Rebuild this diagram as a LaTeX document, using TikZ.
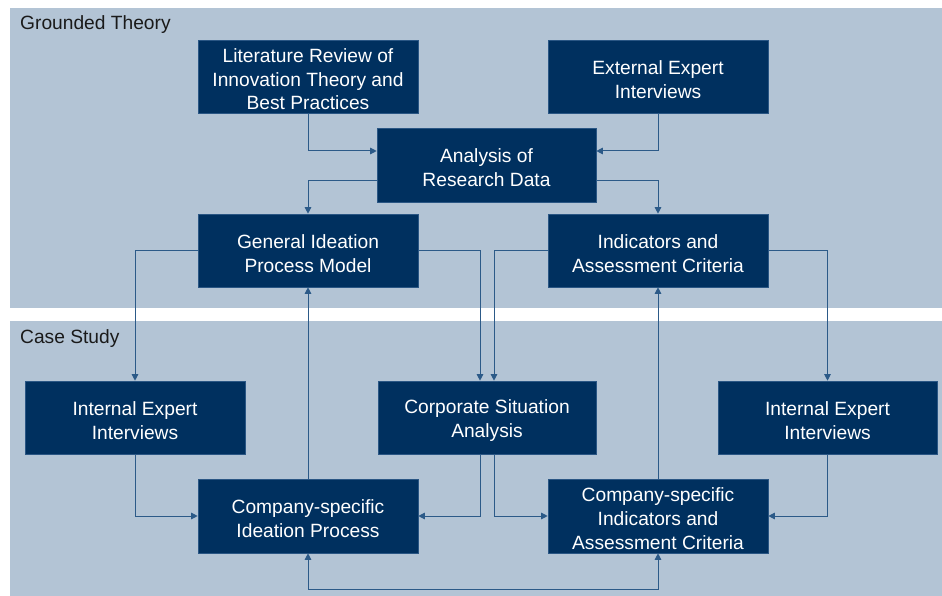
\documentclass[tikz,border=0pt]{standalone}
\usepackage{fontspec}
\setmainfont{Liberation Sans}
\usetikzlibrary{arrows.meta}
\definecolor{panel}{HTML}{B3C4D5}
\definecolor{navy}{HTML}{00305F}
\definecolor{navyedge}{HTML}{2A5684}
\definecolor{conn}{HTML}{2C5A88}
\definecolor{headtxt}{HTML}{1A1A1A}
\newcommand\bxs{\rule{0pt}{19.5pt}}
\tikzset{
  box/.style={fill=navy, draw=navyedge, line width=0.6pt, minimum width=220pt, minimum height=73pt,
    inner sep=1pt, text=white, align=center, font=\fontsize{19.2}{23.8}\selectfont},
  arr/.style={draw=conn, line width=1pt, -{Triangle[length=6.5pt,width=6.5pt]}},
  darr/.style={draw=conn, line width=1pt, {Triangle[length=6.5pt,width=6.5pt]}-{Triangle[length=6.5pt,width=6.5pt]}},
  head/.style={anchor=base west, text=headtxt, inner sep=0pt, font=\fontsize{19.2}{22}\selectfont}
}
\begin{document}
\begin{tikzpicture}[x=1pt,y=-1pt]
\useasboundingbox (0,0) rectangle (942,596);
\fill[white] (0,0) rectangle (942,596);
\fill[panel] (10,8) rectangle (942,308);
\fill[panel] (10,321) rectangle (942,596);
\node[head] (gt) at (20,30) {Grounded Theory};
\node[head] (cs) at (20,343) {Case Study};

\node[box] (lit) at (308,76.5) {\bxs Literature Review of\\Innovation Theory and\\Best Practices};
\node[box] (ext) at (658,76.5) {\bxs External Expert\\Interviews};
\node[box, minimum width=219pt, minimum height=74pt] (ana) at (486.5,165) {\bxs Analysis of\\Research Data};
\node[box] (gen) at (308,250.5) {\bxs General Ideation\\Process Model};
\node[box] (ind) at (658,250.5) {\bxs Indicators and\\Assessment Criteria};
\node[box] (iel) at (135,417.5) {\bxs Internal Expert\\Interviews};
\node[box, minimum width=218pt] (csa) at (487,417.5) {\bxs Corporate Situation\\Analysis};
\node[box, minimum width=219pt] (ier) at (827.5,417.5) {\bxs Internal Expert\\Interviews};
\node[box, minimum height=74pt] (cip) at (308,516) {\bxs Company-specific\\Ideation Process};
\node[box, minimum height=74pt] (cic) at (658,516) {\bxs Company-specific\\Indicators and\\Assessment Criteria};

% grounded theory connectors
\draw[arr] (lit.south) |- ([yshift=14pt]ana.west);
\draw[arr] (ext.south) |- ([yshift=14pt]ana.east);
\draw[arr] ([yshift=-16pt]ana.west) -| (gen.north);
\draw[arr] ([yshift=-16pt]ana.east) -| (ind.north);

% to case study
\draw[arr] (gen.west) -| (iel.north);
\draw[arr] (gen.east) -| ([xshift=-7pt]csa.north);
\draw[arr] (ind.west) -| ([xshift=7pt]csa.north);
\draw[arr] (ind.east) -| (ier.north);

% within case study
\draw[arr] (iel.south) |- (cip.west);
\draw[arr] ([xshift=-7pt]csa.south) |- (cip.east);
\draw[arr] ([xshift=7pt]csa.south) |- (cic.west);
\draw[arr] (ier.south) |- (cic.east);

% feedback
\draw[arr] (cip.north) -- (gen.south);
\draw[arr] (cic.north) -- (ind.south);
\coordinate (bot) at (308,589);
\draw[darr] (cip.south) -- (bot) -| (cic.south);
\end{tikzpicture}
\end{document}
